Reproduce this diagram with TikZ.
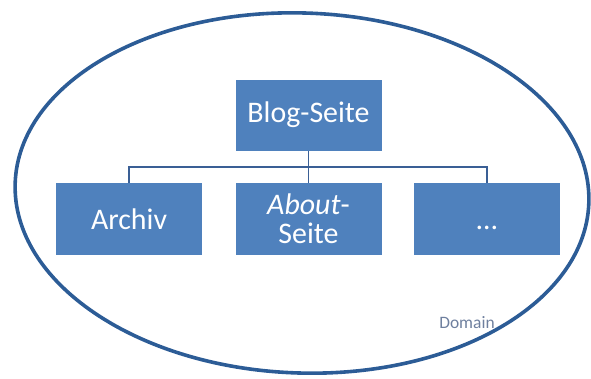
\documentclass[tikz,border=0pt]{standalone}
\usepackage{fontspec}
\setmainfont{Carlito}
\definecolor{boxblue}{HTML}{4F81BD}
\definecolor{edgeblue}{HTML}{2C5C96}
\definecolor{lineblue}{HTML}{3A5F95}
\definecolor{domgray}{HTML}{6E7F9E}
\begin{document}
\begin{tikzpicture}[x=1bp,y=-1bp,
  pagebox/.style={fill=boxblue, draw=none, minimum width=146bp, minimum height=72bp,
    text=white, font=\fontsize{30}{30}\selectfont, align=center, inner sep=0pt},
  link/.style={draw=lineblue, line width=1.4bp}]
\useasboundingbox (0,0) rectangle (591,378);
\draw[edgeblue, line width=3.6bp, rotate around={-2:(302,193)}] (302,193) ellipse [x radius=287, y radius=180];
\node[pagebox, minimum height=71bp] (blog) at (308.5,115) {Blog-Seite};
\node[pagebox] (archiv) at (129,219) {Archiv};
\node[pagebox, font=\fontsize{30}{29.5}\selectfont] (about) at (308.5,219) {\itshape About\upshape-\\Seite};
\node[pagebox] (more) at (487,219) {\vphantom{Archiv}…};
\coordinate (bus) at (308.5,167);
\draw[link] (blog.south) -- (about.north);
\draw[link] (archiv.north) -- (archiv.north |- bus) -- (more.north |- bus) -- (more.north);
\node[text=domgray, font=\fontsize{17.5}{17.5}\selectfont, inner sep=0pt] (domain) at (467,323) {Domain};
\end{tikzpicture}
\end{document}
